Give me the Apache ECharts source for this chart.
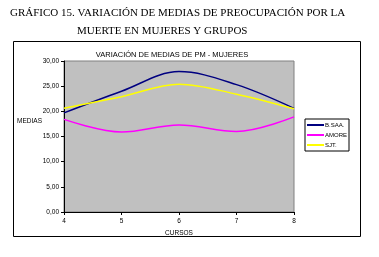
<!DOCTYPE html>
<html><head><meta charset="utf-8">
<script src="https://cdn.jsdelivr.net/npm/echarts@6/dist/echarts.min.js"></script>
<style>html,body{margin:0;padding:0;background:#fff}#c{width:379px;height:257px}</style>
</head><body><div id="c"></div>
<script>
const cursos = [4, 5, 6, 7, 8];
const bsaa = [19.7, 24.0, 27.9, 25.3, 20.6];
const amore = [18.4, 15.9, 17.3, 16.0, 18.9];
const sjt = [20.6, 22.9, 25.4, 23.4, 20.5];
const seriesNames = ['B.SAA.', 'AMORE', 'SJT.'];
const seriesColors = ['#000080', '#ff00ff', '#ffff00'];
const seriesData = [bsaa, amore, sjt];
const yAxisTitle = 'MEDIAS';
const xAxisTitle = 'CURSOS';

const chart = echarts.init(document.getElementById('c'), null, {renderer: 'canvas'});
const axFont = 'Liberation Sans, Arial, sans-serif';
const serif = 'Liberation Serif, Times New Roman, serif';
chart.setOption({
  animation: false,
  backgroundColor: '#fff',
  title: [
    {text: 'GRÁFICO 15. VARIACIÓN DE MEDIAS DE PREOCUPACIÓN POR LA', left: 5, top: 3,
     textStyle: {fontFamily: serif, fontSize: 11, fontWeight: 'normal', color: '#000'}},
    {text: 'MUERTE EN MUJERES Y GRUPOS', left: 72, top: 21,
     textStyle: {fontFamily: serif, fontSize: 11, fontWeight: 'normal', color: '#000'}},
    {text: 'VARIACIÓN DE MEDIAS DE PM - MUJERES', left: 167, textAlign: 'center', top: 46,
     textStyle: {fontFamily: axFont, fontSize: 7.5, fontWeight: 'normal', color: '#000'}}
  ],
  graphic: [
    {type: 'rect', shape: {x: 13.5, y: 41.5, width: 347, height: 195}, style: {fill: null, stroke: '#000', lineWidth: 1}, z: -1},
    {type: 'text', x: 42, y: 121, style: {text: yAxisTitle, fontFamily: axFont, fontSize: 6.5, fill: '#000', textAlign: 'right', textVerticalAlign: 'middle'}}
  ],
  legend: {
    orient: 'vertical', left: 305, top: 119, itemWidth: 17, itemHeight: 2, itemGap: 4,
    icon: 'rect', borderColor: '#000', borderWidth: 1, padding: [3, 2, 3, 2],
    textStyle: {fontFamily: axFont, fontSize: 6, color: '#000', padding: [0, 0, 0, -4]},
    data: seriesNames
  },
  grid: {left: 64, top: 61, width: 230, height: 151, show: true, backgroundColor: '#c0c0c0', borderColor: '#808080', borderWidth: 1},
  xAxis: {
    type: 'value', min: 4, max: 8, interval: 1,
    name: xAxisTitle, nameLocation: 'middle', nameGap: 17,
    nameTextStyle: {fontFamily: axFont, fontSize: 6.5, color: '#000'},
    axisLine: {lineStyle: {color: '#000', width: 1}},
    axisTick: {show: true, length: 3, lineStyle: {color: '#000'}},
    axisLabel: {fontFamily: axFont, fontSize: 6.5, color: '#000', margin: 6},
    splitLine: {show: false}
  },
  yAxis: {
    type: 'value', min: 0, max: 30, interval: 5,
    axisLine: {show: true, lineStyle: {color: '#000', width: 1}},
    axisTick: {show: true, length: 3, lineStyle: {color: '#000'}},
    axisLabel: {fontFamily: axFont, fontSize: 6.5, color: '#000', margin: 5,
      formatter: v => v.toFixed(2).replace('.', ',')},
    splitLine: {show: false}
  },
  series: seriesNames.map((n, i) => ({
    name: n, type: 'line', smooth: 0.35, symbol: 'none',
    data: cursos.map((c, j) => [c, seriesData[i][j]]),
    lineStyle: {color: seriesColors[i], width: 1.5},
    itemStyle: {color: seriesColors[i]}
  }))
});
</script></body></html>
